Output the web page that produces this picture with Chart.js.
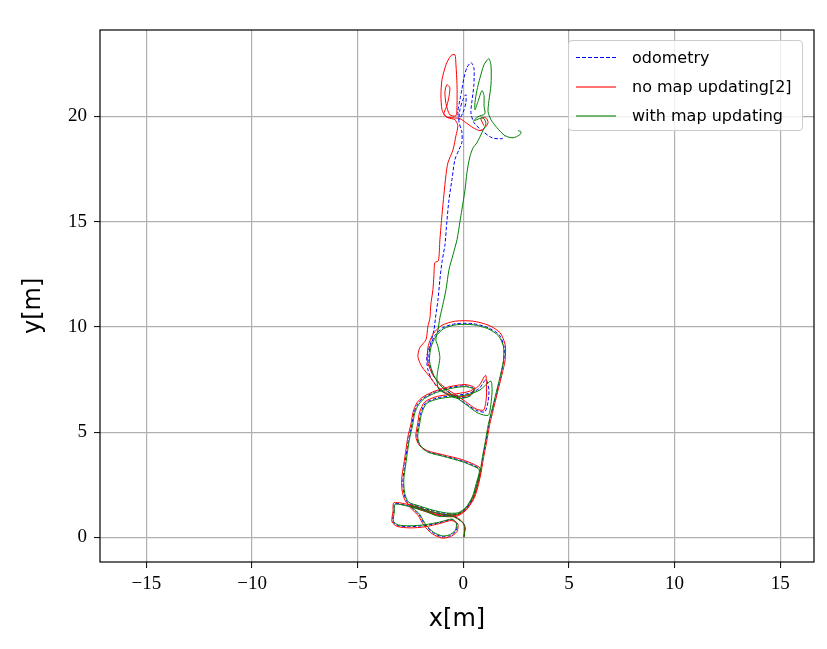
<!DOCTYPE html>
<html>
<head>
<meta charset="utf-8">
<script src="https://cdn.jsdelivr.net/npm/chart.js@4.4.0/dist/chart.umd.min.js"></script>
<style>
  html, body { margin: 0; padding: 0; background: #fff; }
  #wrap { position: relative; width: 827px; height: 649px; }
  #legend {
    position: absolute; left: 568px; top: 40px; width: 235px; height: 91px;
    box-sizing: border-box; border: 1px solid #cccccc; border-radius: 4px;
    background: rgba(255, 255, 255, 0.8); padding-top: 2px;
    font-family: "DejaVu Sans", sans-serif; font-size: 16px; color: #000;
  }
  .row { height: 29px; display: flex; align-items: center; }
  .swatch { width: 40px; margin-left: 7px; margin-right: 16px; }
</style>
</head>
<body>
<div id="wrap">
  <canvas id="traj"></canvas>
  <div id="legend"></div>
</div>
<script>
// trajectories in metres
const seriesLabels = ["odometry", "no map updating[2]", "with map updating"];
const seriesColors = ["#0000ff", "#ff0000", "#008000"];

const odometry = [
  [0.03,0.03],[0.08,0.51],[-0.07,0.75],[-0.54,1.03],[-1.20,1.03],[-1.82,1.27],[-2.44,1.46],[-3.24,1.60],
  [-3.29,1.22],[-3.34,0.75],[-3.10,0.56],[-2.53,0.51],[-1.82,0.56],[-1.11,0.70],[-0.54,0.84],[-0.30,0.65],[-0.35,0.32],[-0.64,0.08],[-1.01,0.03],[-1.44,0.22],[-1.82,0.60],[-2.10,1.08],[-2.53,1.51],
  [-2.06,1.36],[-1.44,1.17],[-0.78,1.03],[-0.26,1.08],[0.12,1.36],[0.46,1.93],[0.64,2.55],[0.79,3.22],
  [0.50,3.41],[-0.07,3.64],[-0.97,3.88],[-1.68,4.07],[-2.06,4.36],[-2.20,4.78],[-2.10,5.45],[-2.01,5.92],
  [-1.77,6.40],[-1.20,6.63],[-0.49,6.73],[0.22,6.83],[0.74,7.06],[1.07,7.49],[1.21,7.02],[1.17,6.45],[1.02,5.97],[0.64,6.02],[0.12,6.35],[-0.35,6.68],[-0.78,6.97],[-1.16,7.30],[-1.44,7.73],
  [-1.63,8.35],[-1.58,9.01],[-1.35,9.58],[-0.97,9.96],[-0.35,10.15],[0.46,10.15],[1.17,9.96],[1.69,9.63],[1.92,9.10],[1.92,8.44],[1.78,7.73],[1.59,6.92],[1.40,6.16],[1.21,5.35],[1.07,4.55],[0.93,3.83],[0.83,3.22],[0.69,2.55],[0.50,1.93],[0.17,1.41],[-0.26,1.13],[-0.82,1.13],[-1.49,1.27],[-2.10,1.46],[-2.63,1.65],
  [-2.82,2.12],[-2.86,2.74],[-2.77,3.45],[-2.67,4.17],[-2.58,4.74],[-2.44,5.35],[-2.34,5.92],[-2.15,6.35],[-1.87,6.63],[-1.30,6.92],[-0.64,7.11],[0.08,7.20],[0.50,7.06],[0.31,6.73],[-0.26,6.63],[-0.82,6.83],[-1.20,7.11],[-1.49,7.49],[-1.68,7.97],[-1.73,8.58],[-1.54,9.25],[-1.39,9.86],
  [-1.30,10.58],[-1.20,11.29],[-1.11,12.24],[-1.01,13.09],[-0.87,13.90],[-0.78,15.00],[-0.68,16.04],[-0.54,16.99],[-0.40,17.94],[-0.21,18.41],[-0.07,18.75],
  [-0.07,19.27],[-0.21,19.74],[-0.16,20.31],[-0.02,20.79],[0.12,21.03],[0.12,20.65],[-0.02,20.17],[-0.21,19.84],[-0.26,20.22],[-0.16,20.79],[-0.07,21.27],[0.03,21.83],[0.17,22.31],[0.36,22.55],[0.50,22.31],[0.50,21.50],[0.41,20.74],[0.36,20.17],[0.50,19.70],[0.88,19.32],[1.36,18.98],[1.83,18.94],[1.97,19.08]
];

const noMapUpdating = [
  [0.03,0.02],[0.06,0.50],[-0.09,0.78],[-0.56,1.07],[-1.22,1.08],[-1.84,1.32],[-2.46,1.52],[-3.28,1.65],
  [-3.33,1.24],[-3.38,0.74],[-3.13,0.52],[-2.53,0.45],[-1.82,0.50],[-1.11,0.66],[-0.56,0.80],[-0.26,0.64],[-0.30,0.28],[-0.62,0.03],[-1.02,-0.03],[-1.47,0.17],[-1.86,0.56],[-2.14,1.04],[-2.57,1.48],
  [-2.08,1.32],[-1.45,1.12],[-0.78,0.98],[-0.24,1.03],[0.16,1.33],[0.50,1.92],[0.68,2.55],[0.83,3.24],
  [0.52,3.46],[-0.08,3.70],[-0.99,3.93],[-1.71,4.12],[-2.10,4.40],[-2.25,4.80],[-2.15,5.47],[-2.07,5.95],
  [-1.82,6.44],[-1.22,6.70],[-0.49,6.80],[0.22,6.92],[0.72,7.18],[1.05,7.70],[1.10,7.25],[1.08,6.55],[0.96,6.05],[0.60,6.10],[0.10,6.45],[-0.37,6.78],[-0.80,7.06],[-1.20,7.40],[-1.49,7.80],
  [-1.70,8.40],[-1.66,9.10],[-1.42,9.68],[-1.02,10.07],[-0.38,10.27],[0.46,10.27],[1.21,10.07],[1.74,9.72],[1.98,9.15],[1.98,8.44],[1.82,7.70],[1.62,6.90],[1.43,6.12],[1.24,5.32],[1.10,4.52],[0.96,3.80],[0.86,3.20],[0.72,2.52],[0.52,1.88],[0.18,1.36],[-0.28,1.07],[-0.84,1.08],[-1.51,1.22],[-2.13,1.42],[-2.67,1.62],
  [-2.88,2.12],[-2.92,2.76],[-2.82,3.47],[-2.71,4.20],[-2.63,4.76],[-2.48,5.38],[-2.38,5.95],[-2.19,6.40],[-1.90,6.68],[-1.32,6.96],[-0.64,7.16],[0.08,7.26],[0.52,7.12],[0.33,6.78],[-0.26,6.68],[-0.84,6.88],[-1.24,7.18],[-1.58,7.62],[-1.96,8.10],[-2.15,8.58],[-2.06,9.01],[-1.77,9.39],
  [-1.68,10.01],[-1.58,10.43],[-1.54,11.05],[-1.44,11.77],[-1.39,12.48],[-1.35,13.05],[-1.18,13.14],[-1.11,14.14],[-1.01,15.33],[-0.92,16.27],[-0.82,17.23],[-0.73,17.79],[-0.49,18.41],
  [-0.35,19.08],[-0.26,19.55],[-0.40,19.84],[-0.73,19.93],[-0.92,20.12],[-0.78,20.50],[-0.68,20.93],[-0.64,21.36],[-0.78,21.50],[-0.87,21.17],[-0.82,20.60],[-0.64,20.07],[-0.35,20.03],[-0.30,20.55],[-0.30,21.50],[-0.35,22.45],[-0.40,22.93],[-0.59,22.88],[-0.82,22.45],[-1.01,21.74],[-1.06,21.03],[-1.01,20.31],[-0.82,19.98],[-0.49,19.93],[-0.16,19.89],[0.12,19.70],[0.46,19.46],[0.79,19.32],[1.02,19.46],[1.17,19.70],[1.07,19.93],[0.83,19.89],[0.98,19.55]
];

const withMapUpdating = [
  [0.03,0.00],[0.08,0.50],[-0.05,0.72],[-0.52,1.00],[-1.18,1.00],[-1.80,1.24],[-2.42,1.43],[-3.22,1.57],
  [-3.27,1.20],[-3.31,0.77],[-3.08,0.59],[-2.52,0.55],[-1.82,0.60],[-1.11,0.73],[-0.52,0.87],[-0.33,0.66],[-0.38,0.34],[-0.66,0.12],[-1.00,0.07],[-1.42,0.25],[-1.79,0.62],[-2.07,1.10],[-2.50,1.50],
  [-2.04,1.38],[-1.43,1.20],[-0.77,1.06],[-0.27,1.11],[0.10,1.38],[0.43,1.94],[0.61,2.56],[0.76,3.20],
  [0.48,3.38],[-0.07,3.60],[-0.95,3.85],[-1.66,4.04],[-2.02,4.33],[-2.16,4.77],[-2.06,5.43],[-1.97,5.90],
  [-1.73,6.37],[-1.18,6.58],[-0.48,6.68],[0.22,6.78],[0.78,7.00],[1.30,7.42],[1.36,6.95],[1.30,6.30],[1.18,5.80],[0.70,5.90],[0.14,6.30],[-0.33,6.64],[-0.76,6.93],[-1.12,7.26],[-1.40,7.70],
  [-1.60,8.35],[-1.54,9.00],[-1.30,9.55],[-0.92,9.92],[-0.33,10.10],[0.46,10.10],[1.14,9.92],[1.66,9.58],[1.90,9.06],[1.90,8.42],[1.76,7.72],[1.56,6.90],[1.38,6.16],[1.18,5.35],[1.04,4.55],[0.91,3.84],[0.81,3.22],[0.66,2.56],[0.47,1.95],[0.15,1.45],[-0.24,1.17],[-0.80,1.16],[-1.47,1.30],[-2.07,1.49],[-2.60,1.68],
  [-2.78,2.12],[-2.82,2.74],[-2.73,3.44],[-2.63,4.16],[-2.54,4.72],[-2.40,5.33],[-2.30,5.90],[-2.11,6.32],[-1.84,6.60],[-1.28,6.88],[-0.62,7.07],[0.10,7.16],[0.54,7.02],[0.30,6.70],[-0.26,6.60],[-0.80,6.80],[-1.18,7.08],[-1.25,7.58],[-1.20,7.97],[-1.11,8.53],[-1.20,9.06],[-1.30,9.39],
  [-1.20,9.86],[-1.11,10.43],[-0.97,11.05],[-0.82,11.77],[-0.68,12.71],[-0.49,13.42],[-0.30,14.14],[-0.16,15.00],[-0.07,15.56],[0.08,16.51],[0.17,17.32],[0.31,18.08],[0.46,18.50],
  [0.64,18.74],[0.88,19.22],[1.07,19.65],[0.93,19.93],[0.50,19.79],[0.69,19.98],[1.02,20.12],[0.98,20.50],[0.98,20.98],[0.88,21.22],[0.69,20.69],[0.55,20.31],[0.55,20.65],[0.64,21.22],[0.79,21.83],[0.98,22.45],[1.21,22.74],[1.31,22.40],[1.31,21.50],[1.21,20.74],[1.17,20.22],[1.31,19.84],[1.59,19.46],[1.97,19.08],[2.35,18.98],[2.68,19.13],[2.73,19.27],[2.59,19.32]
];

const xTicks = [-15, -10, -5, 0, 5, 10, 15];
const yTicks = [0, 5, 10, 15, 20];
const xRange = [-17.2, 16.6];
const yRange = [-1.17, 24.1];

const toPoints = arr => arr.map(p => ({ x: p[0], y: p[1] }));
const fmt = v => (v < 0 ? "\u2212" + Math.abs(v) : String(v));

const tickFont = { family: "'Liberation Serif', serif", size: 19 };
const titleFont = { family: "'DejaVu Sans', sans-serif", size: 24 };

// black frame round the plot area
const frame = {
  id: "frame",
  afterDraw(chart) {
    const { ctx, chartArea: a } = chart;
    ctx.save();
    ctx.strokeStyle = "#000";
    ctx.lineWidth = 1.2;
    ctx.strokeRect(a.left, a.top, a.right - a.left, a.bottom - a.top);
    ctx.restore();
  }
};

const canvas = document.getElementById("traj");
canvas.width = 827;
canvas.height = 649;

new Chart(canvas, {
  type: "scatter",
  data: {
    datasets: [
      { label: seriesLabels[0], data: toPoints(odometry), borderColor: seriesColors[0], borderDash: [3.5, 2], order: 3 },
      { label: seriesLabels[1], data: toPoints(noMapUpdating), borderColor: seriesColors[1], order: 2 },
      { label: seriesLabels[2], data: toPoints(withMapUpdating), borderColor: seriesColors[2], order: 1 }
    ].map(d => Object.assign(d, { showLine: true, pointRadius: 0, borderWidth: 1, tension: 0.25, fill: false }))
  },
  options: {
    responsive: false,
    animation: false,
    layout: { padding: { top: 30, right: 13, left: 0, bottom: 0 } },
    plugins: { legend: { display: false }, tooltip: { enabled: false } },
    scales: {
      x: {
        type: "linear",
        min: xRange[0], max: xRange[1],
        afterBuildTicks: s => { s.ticks = xTicks.map(v => ({ value: v })); },
        afterFit: s => { s.height = 87; },
        ticks: { callback: fmt, font: tickFont, color: "#000", padding: 5, maxRotation: 0 },
        grid: { color: "#b0b0b0", lineWidth: 1.2, tickColor: "#000", tickLength: 6, tickWidth: 1 },
        border: { display: false },
        title: { display: true, text: "x[m]", font: titleFont, color: "#000", padding: { top: 0, bottom: 15 } }
      },
      y: {
        type: "linear",
        min: yRange[0], max: yRange[1],
        afterBuildTicks: s => { s.ticks = yTicks.map(v => ({ value: v })); },
        afterFit: s => { s.width = 100; },
        ticks: { callback: fmt, font: tickFont, color: "#000", padding: 7 },
        grid: { color: "#b0b0b0", lineWidth: 1.2, tickColor: "#000", tickLength: 6, tickWidth: 1 },
        border: { display: false },
        // trailing spaces nudge the rotated label down a little, like the original
        title: { display: true, text: "y[m]\u2002 ", font: titleFont, color: "#000", padding: { top: 19, bottom: 0 } }
      }
    }
  },
  plugins: [frame]
});

// legend box drawn as html over the plot
const legend = document.getElementById("legend");
seriesLabels.forEach((label, i) => {
  const row = document.createElement("div");
  row.className = "row";
  const sw = document.createElement("div");
  sw.className = "swatch";
  if (i === 0) {
    sw.style.height = "1px";
    sw.style.background = "repeating-linear-gradient(to right, " + seriesColors[i] + " 0 4px, transparent 4px 6px)";
  } else {
    sw.style.height = "2px";
    sw.style.background = seriesColors[i];
    sw.style.opacity = "0.55";
  }
  const txt = document.createElement("span");
  txt.textContent = label;
  row.appendChild(sw);
  row.appendChild(txt);
  legend.appendChild(row);
});
</script>
</body>
</html>
